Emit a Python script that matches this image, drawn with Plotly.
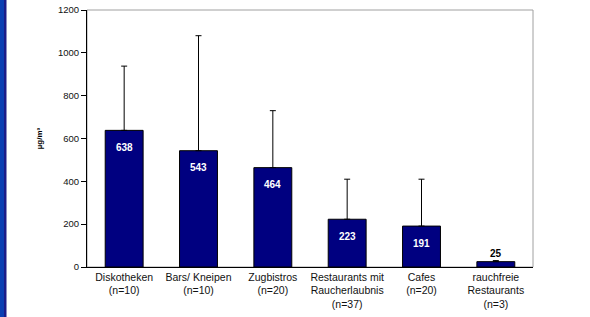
import plotly.graph_objects as go

categories = ["Diskotheken<br>(n=10)", "Bars/ Kneipen<br>(n=10)", "Zugbistros<br>(n=20)",
              "Restaurants mit<br>Raucherlaubnis<br>(n=37)", "Cafes<br>(n=20)",
              "rauchfreie<br>Restaurants<br>(n=3)"]
values = [638, 543, 464, 223, 191, 25]
errors_plus = [300, 537, 266, 187, 219, 5]
y_ticks = [0, 200, 400, 600, 800, 1000, 1200]

W, H = 590, 317
L, R, T, B = 87, 57, 10, 50

fig = go.Figure()
fig.add_trace(go.Bar(
    x=categories, y=values,
    marker=dict(color="#000080", line=dict(color="#000000", width=1)),
    error_y=dict(type="data", array=errors_plus, arrayminus=[0]*len(values),
                 symmetric=False, color="#000000", thickness=1, width=3),
    width=0.51,
    hoverinfo="skip",
))

for c, v in zip(categories, values):
    inside = v > 100
    fig.add_annotation(x=c, y=v, text=f"<b>{v}</b>", showarrow=False,
                       yshift=-17 if inside else 8,
                       font=dict(family="Arial, Liberation Sans", size=10,
                                 color="white" if inside else "black"))

# plot frame (gray top/right)
fig.add_shape(type="rect", xref="paper", yref="paper", x0=0, y0=0, x1=1, y1=1,
              line=dict(color="#a0a0a0", width=1), layer="below")
# blue strip on left edge
px = lambda p: (p - L) / (W - L - R)
py = lambda p: 1 - (p - T) / (H - T - B)
fig.add_shape(type="rect", xref="paper", yref="paper", x0=px(0), x1=px(4), y0=py(H), y1=py(0),
              fillcolor="#0b3fb2", line=dict(width=0), layer="below")
fig.add_shape(type="rect", xref="paper", yref="paper", x0=px(4), x1=px(6.5), y0=py(H), y1=py(0),
              fillcolor="#1c1c88", line=dict(width=0), layer="below")

fig.update_layout(
    width=W, height=H,
    margin=dict(l=L, r=R, t=T, b=B, pad=0, autoexpand=False),
    paper_bgcolor="white", plot_bgcolor="white",
    showlegend=False,
    font=dict(family="Arial, Liberation Sans", color="#000000"),
    xaxis=dict(showline=True, linecolor="#000000", linewidth=1, ticks="", automargin=False,
               tickfont=dict(size=10.5, color="#111111"), showgrid=False, fixedrange=True),
    yaxis=dict(range=[0, 1200], tickvals=y_ticks, showline=True, linecolor="#000000",
               linewidth=1, ticks="outside", ticklen=5, tickcolor="#000000", automargin=False,
               tickfont=dict(size=9.5, color="#111111"), showgrid=False, zeroline=False,
               title=dict(text="<b>µg/m³</b>", font=dict(size=8), standoff=14)),
)

fig.write_html("out.html", config={"displayModeBar": False},
               post_script="document.body.style.margin='0px';document.body.style.overflow='hidden';")
